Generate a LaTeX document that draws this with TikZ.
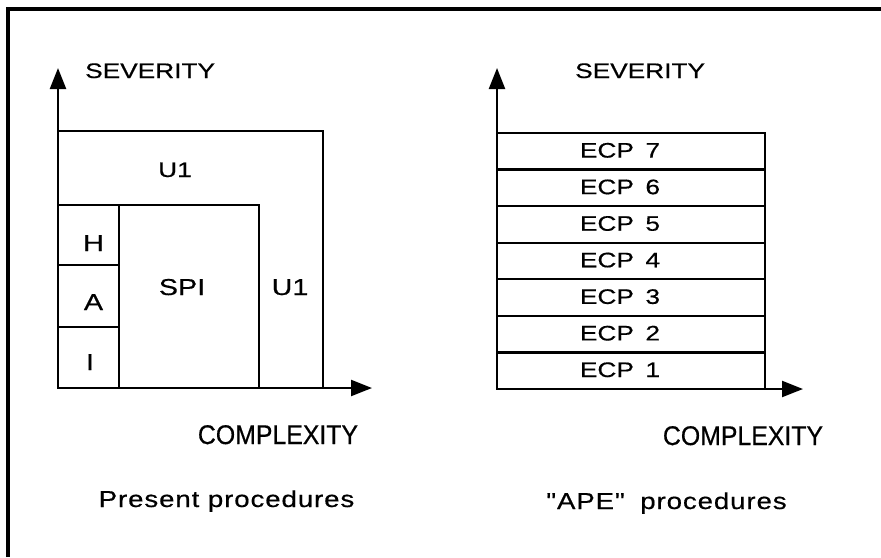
\documentclass[tikz,border=0pt]{standalone}
\usepackage{fontspec}
\usetikzlibrary{arrows.meta}
\newfontfamily\widefont[FakeStretch=1.25,FakeBold=0.5]{Liberation Sans}
\newfontfamily\condfont[FakeStretch=0.92,FakeBold=0.5]{Liberation Sans}
\newfontfamily\spacedfont[FakeStretch=1.2,LetterSpace=4,FakeBold=0.5]{Liberation Sans}
\tikzset{
  boxline/.style={line width=2.2pt},
  axisline/.style={line width=2.3pt,-{Triangle[length=21pt,width=16pt]}},
  frameline/.style={line width=3.2pt},
  lab/.style={inner sep=0pt,anchor=base,font=\widefont\fontsize{21}{21}\selectfont},
  labbig/.style={inner sep=0pt,anchor=base,font=\widefont\fontsize{23}{23}\selectfont},
  cplx/.style={inner sep=0pt,anchor=base,font=\condfont\fontsize{27}{27}\selectfont},
  capt/.style={inner sep=0pt,anchor=base,font=\spacedfont\fontsize{23}{23}\selectfont},
}
\begin{document}
\begin{tikzpicture}[x=1pt,y=-1pt]
\useasboundingbox (0,0) rectangle (881,557);
\fill[white] (0,0) rectangle (881,557);
% frame (open)
\coordinate (FB) at (8,557);
\coordinate (FC) at (8,9);
\coordinate (FR) at (881,9);
\draw[frameline] (FB) -- (FC) -- (FR);

% ---------- left diagram ----------
\coordinate (O1) at (58,388);
\coordinate (Y1) at (58,68);
\coordinate (X1) at (372,388);
\draw[boxline] (58,131) rectangle (323,388);
\draw[boxline] (58,205) rectangle (259,388);
\draw[boxline] (58,205) rectangle (119,388);
\draw[boxline] (58,265) -- (119,265);
\draw[boxline] (58,327) -- (119,327);
\draw[axisline] (O1) -- (Y1);
\draw[axisline] (O1) -- (X1);

\node[lab,anchor=base west] (sev1) at (85,78) {SEVERITY};
\node[lab] (u1top) at (175,177) {U1};
\node[labbig] (h) at (93.5,251) {H};
\node[labbig] (a) at (93.5,310) {A};
\node[labbig] (i) at (90,370) {I};
\node[labbig] (spi) at (182,295) {SPI};
\node[labbig] (u1r) at (290,295) {U1};
\node[cplx] (cx1) at (278,444) {COMPLEXITY};
\node[capt] (pp) at (226.5,507) {Present procedures};

% ---------- right diagram ----------
\coordinate (O2) at (497,389);
\coordinate (Y2) at (497,68);
\coordinate (X2) at (803,389);
\draw[boxline] (497,133) rectangle (765,389);
\foreach \k in {1,...,6}{
  \draw[boxline] (497,{389-\k*36.571}) -- (765,{389-\k*36.571});
}
\foreach \k in {1,...,7}{
  \node[lab] (ecp\k) at (620,{389-(\k-1)*36.571-12}) {ECP\hspace{0.55em}\k};
}
\draw[axisline] (O2) -- (Y2);
\draw[axisline] (O2) -- (X2);

\node[lab,anchor=base west] (sev2) at (575,78) {SEVERITY};
\node[cplx] (cx2) at (743,445) {COMPLEXITY};
\node[capt] (ape) at (666.5,509) {"APE"\hspace{0.3em} procedures};
\end{tikzpicture}
\end{document}
